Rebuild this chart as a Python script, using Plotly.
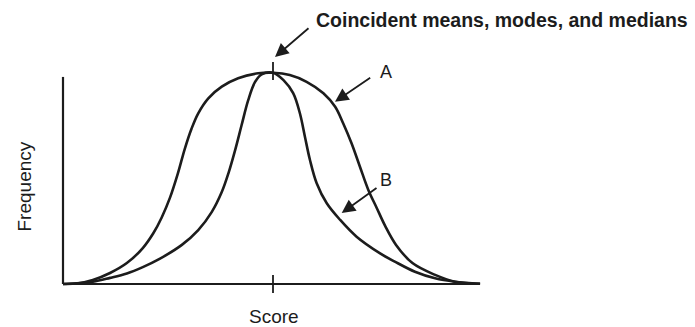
import plotly.graph_objects as go

# ---- data (score units: mean = 50; frequency: peak = 100) ----
score_A = [0, 3.3, 7.1, 11.2, 15.2, 19.0, 21.5, 23.5, 25.5, 27.3, 29.0, 30.6, 32.2, 34.6, 37.8,
           41.7, 46.5, 50, 54.0, 58.0, 62.0, 64.8, 66.7, 68.7, 70.7, 72.7, 74.7, 76.7, 79.3,
           83.2, 88.6, 93.3, 99.3]
freq_A = [0, 0.2, 1.9, 5.2, 9.9, 17.0, 24.0, 31.5, 41.0, 52.0, 64.0, 73.5, 80.8, 87.9, 93.4,
          97.4, 99.7, 100, 98.9, 95.7, 90.3, 83.9, 76.1, 66.6, 55.5, 44.5, 36.0, 27.5, 18.5,
          9.9, 4.3, 1.1, 0.1]

score_B = [0, 7.1, 11.2, 15.2, 19.0, 23.1, 28.3, 32.2, 35.4, 37.8, 39.4, 41.0, 42.5, 44.1, 45.7,
           47.3, 50, 52.5, 54.8, 56.4, 57.6, 58.8, 60.4, 62.8, 66.0, 69.9, 75.5, 79.0, 83.8,
           88.6, 93.3, 99.3]
freq_B = [0, 1.1, 2.9, 5.0, 8.0, 12.0, 18.5, 25.5, 34.0, 43.5, 52.5, 63.5, 75.0, 87.0, 95.5,
          99.2, 100, 96.5, 90.3, 80.8, 69.7, 58.7, 47.7, 38.2, 30.3, 22.4, 14.5, 10.6, 5.8,
          2.7, 1.1, 0.1]

center_score = 50
axis_max_score = 99.3
axis_max_freq = 98.0

title_text = "Coincident means, modes, and medians"
x_label = "Score"
y_label = "Frequency"
label_A = "A"
label_B = "B"

# ---- layout geometry (pixels) ----
W, H = 695, 327
X0_PX, XC_PX = 63.0, 273.0
Y0_PX, PEAK_PX = 284.0, 72.7
PX_PER_S = (XC_PX - X0_PX) / center_score
PX_PER_F = (Y0_PX - PEAK_PX) / 100.0


def s_of(px):
    return (px - X0_PX) / PX_PER_S


def f_of(py):
    return (Y0_PX - py) / PX_PER_F


INK = "#1c1c1c"
FONT = "Liberation Sans, Arial, Helvetica, sans-serif"

fig = go.Figure()
fig.add_trace(go.Scatter(x=score_A, y=freq_A, mode="lines",
                         line=dict(color=INK, width=2.6, shape="spline", smoothing=1.0),
                         hoverinfo="skip", showlegend=False, name="A"))
fig.add_trace(go.Scatter(x=score_B, y=freq_B, mode="lines",
                         line=dict(color=INK, width=2.6, shape="spline", smoothing=1.0),
                         hoverinfo="skip", showlegend=False, name="B"))

shapes = [
    dict(type="line", x0=0, x1=0, y0=0, y1=axis_max_freq, line=dict(color=INK, width=2.2)),
    dict(type="line", x0=0, x1=axis_max_score, y0=0, y1=0, line=dict(color=INK, width=2.2)),
    dict(type="line", x0=center_score, x1=center_score, y0=f_of(293), y1=f_of(275),
         line=dict(color=INK, width=1.8)),
    dict(type="line", x0=center_score, x1=center_score, y0=f_of(80), y1=f_of(62),
         line=dict(color=INK, width=1.8)),
]

annotations = [
    dict(text="<b>%s</b>" % title_text, xref="paper", yref="paper",
         x=501.5 / W, y=1 - 20.5 / H, xanchor="center", yanchor="middle", showarrow=False,
         font=dict(family=FONT, size=19.5, color=INK)),
    dict(text=x_label, xref="paper", yref="paper", x=273.5 / W, y=1 - 316 / H,
         xanchor="center", yanchor="middle", showarrow=False,
         font=dict(family=FONT, size=19, color=INK)),
    dict(text=y_label, xref="paper", yref="paper", x=23.5 / W, y=1 - 187 / H,
         xanchor="center", yanchor="middle", showarrow=False, textangle=-90,
         font=dict(family=FONT, size=19, color=INK)),
    dict(text=label_A, xref="paper", yref="paper", x=386 / W, y=1 - 71.5 / H,
         xanchor="center", yanchor="middle", showarrow=False,
         font=dict(family=FONT, size=18, color=INK)),
    dict(text=label_B, xref="paper", yref="paper", x=386 / W, y=1 - 179.5 / H,
         xanchor="center", yanchor="middle", showarrow=False,
         font=dict(family=FONT, size=18, color=INK)),
]

arrows = [
    (s_of(275), f_of(57), 35, -30),
    (s_of(335), f_of(101.7), 36.7, -25),
    (s_of(341.7), f_of(213), 36.3, -26),
]
for x, y, ax, ay in arrows:
    annotations.append(dict(x=x, y=y, xref="x", yref="y", ax=ax, ay=ay, text="",
                            showarrow=True, arrowhead=2, arrowsize=1.5, arrowwidth=1.8,
                            arrowcolor=INK, standoff=0))

fig.update_layout(
    width=W, height=H,
    margin=dict(l=0, r=0, t=0, b=0),
    paper_bgcolor="white", plot_bgcolor="white",
    xaxis=dict(range=[s_of(0), s_of(W)], visible=False, fixedrange=True),
    yaxis=dict(range=[f_of(H), f_of(0)], visible=False, fixedrange=True),
    shapes=shapes, annotations=annotations,
)

fig.write_html("out.html", config={"displayModeBar": False},
               post_script="document.body.style.margin='0';document.body.style.overflow='hidden';")
